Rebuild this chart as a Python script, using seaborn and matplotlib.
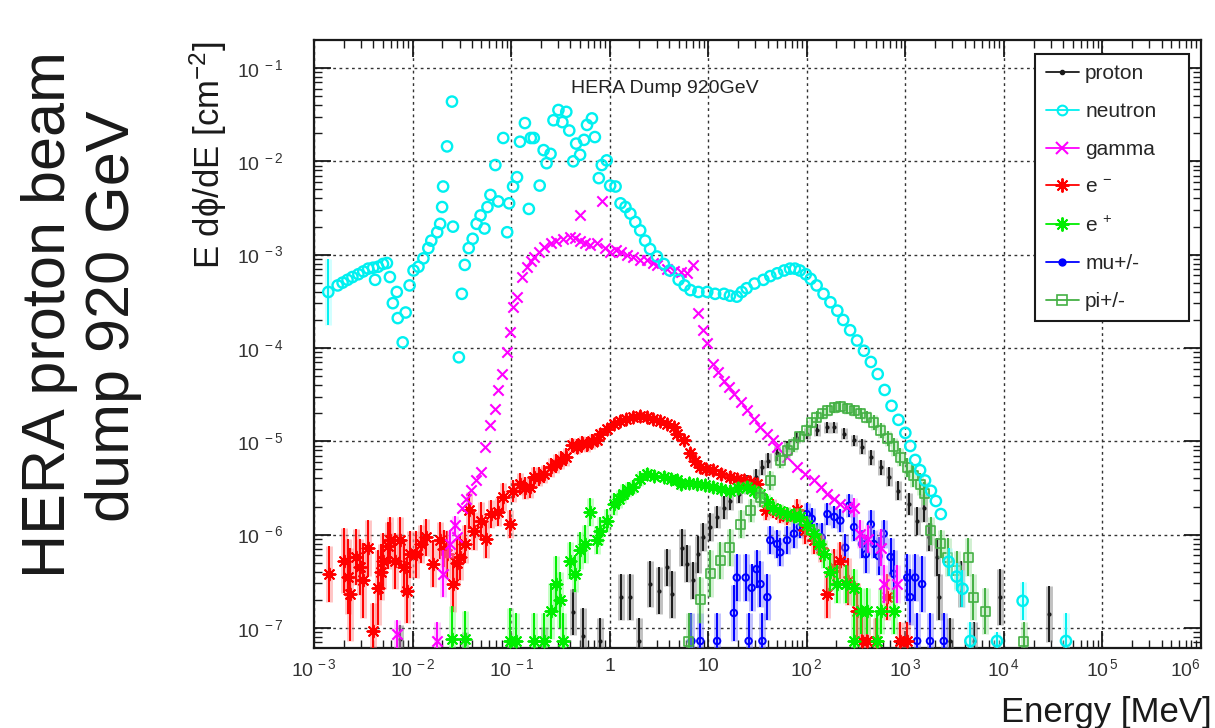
import numpy as np
import matplotlib
matplotlib.use("Agg")
import matplotlib.pyplot as plt
import seaborn as sns
from matplotlib.lines import Line2D
from matplotlib.ticker import LogLocator, NullFormatter

# ---------------- data (log10 of energy [MeV] and of E dphi/dE [cm^-2]) -------------
neutron_logE = [-2.855, -2.76, -2.71, -2.66, -2.61, -2.55, -2.50, -2.45, -2.40, -2.38, -2.35, -2.30,
                -2.26, -2.23, -2.20, -2.16, -2.15, -2.10, -2.07, -2.03, -1.99, -1.94, -1.89, -1.84,
                -1.81, -1.75, -1.72, -1.70, -1.69, -1.65, -1.60, -1.59, -1.53, -1.50, -1.47, -1.43,
                -1.39, -1.35, -1.31, -1.27, -1.24, -1.21, -1.16, -1.13, -1.08, -1.04, -1.02, -0.98,
                -0.94, -0.91, -0.86, -0.82, -0.80, -0.77, -0.71, -0.67, -0.64, -0.60, -0.57, -0.52,
                -0.48, -0.44, -0.41, -0.37, -0.34, -0.30, -0.26, -0.23, -0.18, -0.15, -0.11, -0.08,
                -0.03, 0.005, 0.06, 0.11, 0.16, 0.21, 0.26, 0.31, 0.36, 0.41, 0.48, 0.55, 0.61, 0.70,
                0.76, 0.82, 0.90, 0.99, 1.07, 1.16, 1.22, 1.29, 1.34, 1.39, 1.47, 1.56, 1.63, 1.70,
                1.77, 1.83, 1.88, 1.93, 1.99, 2.04, 2.10, 2.17, 2.24, 2.31, 2.37, 2.44, 2.51, 2.58,
                2.65, 2.72, 2.79, 2.86, 2.93, 3.00, 3.05, 3.10, 3.15, 3.20, 3.26, 3.31, 3.36, 3.44,
                3.52, 3.58, 3.66, 3.93, 4.19, 4.63]
neutron_logF = [-3.40, -3.33, -3.30, -3.27, -3.24, -3.21, -3.18, -3.15, -3.14, -3.27, -3.13, -3.10,
                -3.09, -3.24, -3.52, -3.40, -3.68, -3.94, -3.62, -3.33, -3.17, -3.13, -3.04, -2.93,
                -2.85, -2.76, -2.67, -2.49, -2.27, -1.84, -1.36, -2.70, -4.10, -3.42, -3.11, -2.93,
                -2.83, -2.67, -2.58, -2.72, -2.49, -2.36, -2.04, -2.43, -1.75, -2.76, -2.45, -2.27,
                -2.17, -1.79, -1.59, -2.51, -1.75, -1.75, -2.26, -1.88, -2.02, -1.92, -1.56, -1.45,
                -1.58, -1.47, -1.67, -2.00, -1.81, -1.93, -1.77, -1.61, -1.54, -1.74, -2.18, -2.04,
                -1.99, -2.26, -2.27, -2.45, -2.49, -2.56, -2.65, -2.74, -2.85, -2.94, -3.02, -3.10,
                -3.17, -3.27, -3.33, -3.38, -3.40, -3.40, -3.42, -3.42, -3.44, -3.45, -3.40, -3.36,
                -3.31, -3.27, -3.23, -3.20, -3.17, -3.15, -3.15, -3.17, -3.21, -3.26, -3.33, -3.42,
                -3.51, -3.60, -3.70, -3.81, -3.92, -4.03, -4.15, -4.28, -4.45, -4.62, -4.77, -4.91,
                -5.05, -5.20, -5.31, -5.42, -5.53, -5.64, -5.78, -6.29, -6.45, -6.58, -7.14, -7.14,
                -6.71, -7.14]
neutron_err = [0.35] + [0.0] * 126 + [0.15, 0.15, 0.2, 0.2, 0.1, 0.2, 0.3]

gamma_logE = [-2.16, -1.75, -1.69, -1.62, -1.57, -1.55, -1.50, -1.46, -1.41, -1.36, -1.31, -1.26,
              -1.21, -1.16, -1.13, -1.09, -1.04, -1.01, -0.98, -0.94, -0.89, -0.84, -0.80, -0.77,
              -0.72, -0.67, -0.60, -0.54, -0.47, -0.40, -0.35, -0.30, -0.30, -0.25, -0.20, -0.13,
              -0.08, -0.05, 0.005, 0.06, 0.11, 0.18, 0.24, 0.31, 0.38, 0.44, 0.48, 0.58, 0.65, 0.72,
              0.78, 0.85, 0.90, 0.95, 0.99, 1.05, 1.10, 1.16, 1.21, 1.26, 1.33, 1.39, 1.46, 1.53,
              1.60, 1.66, 1.70, 1.80, 1.90, 1.98, 2.07, 2.14, 2.21, 2.28, 2.34, 2.41, 2.48, 2.54,
              2.62, 2.75, 2.78, 2.92]
gamma_logF = [-7.06, -7.14, -6.42, -6.10, -5.90, -6.03, -5.72, -5.62, -5.52, -5.42, -5.33, -5.06,
              -4.83, -4.65, -4.45, -4.28, -4.04, -3.83, -3.56, -3.45, -3.24, -3.13, -3.07, -3.02,
              -2.97, -2.92, -2.88, -2.85, -2.83, -2.81, -2.82, -2.85, -2.58, -2.88, -2.90, -2.88,
              -2.42, -2.93, -2.97, -2.95, -2.97, -3.00, -3.02, -3.06, -3.06, -3.09, -3.11, -3.15,
              -3.17, -3.19, -3.20, -3.11, -3.63, -3.81, -3.95, -4.17, -4.26, -4.35, -4.42, -4.49,
              -4.58, -4.67, -4.76, -4.85, -4.92, -4.99, -5.06, -5.17, -5.28, -5.35, -5.42, -5.49,
              -5.56, -5.62, -5.67, -5.70, -5.71, -5.99, -6.05, -6.14, -6.53, -6.53]
gamma_err = [0.15, 0.2, 0.25, 0.15, 0.1] + [0.0] * 71 + [0.1, 0.15, 0.15, 0.2, 0.2, 0.2]

eminus_logE = [-2.85, -2.70, -2.66, -2.63, -2.57, -2.53, -2.50, -2.45, -2.40, -2.35, -2.32, -2.30,
               -2.25, -2.23, -2.18, -2.13, -2.09, -2.06, -2.03, -1.96, -1.91, -1.86, -1.79, -1.72,
               -1.68, -1.65, -1.59, -1.55, -1.52, -1.47, -1.43, -1.38, -1.31, -1.25, -1.20, -1.13,
               -1.08, -1.01, -0.98, -0.91, -0.86, -0.81, -0.77, -0.72, -0.67, -0.60, -0.54, -0.49,
               -0.44, -0.38, -0.33, -0.28, -0.23, -0.18, -0.13, -0.10, -0.03, 0.04, 0.10, 0.17,
               0.24, 0.31, 0.38, 0.44, 0.51, 0.58, 0.65, 0.68, 0.75, 0.82, 0.87, 0.92, 0.98, 1.05,
               1.13, 1.22, 1.29, 1.36, 1.42, 1.49, 1.59, 1.66, 1.73, 1.80, 1.90, 1.98, 2.07, 2.14,
               2.21, 2.28, 2.34, 2.42, 2.51, 2.56, 2.61, 2.70, 2.81, 2.95, 3.02]
eminus_logF = [-6.42, -6.28, -6.45, -6.64, -6.24, -6.35, -6.49, -6.14, -7.03, -6.57, -6.40, -6.28,
               -6.12, -6.06, -6.28, -6.06, -6.35, -6.60, -6.21, -6.21, -6.10, -6.03, -6.31, -6.06,
               -6.15, -6.21, -6.53, -6.30, -6.24, -6.10, -5.74, -5.96, -5.85, -6.05, -5.78, -5.76,
               -5.60, -5.89, -5.53, -5.46, -5.50, -5.49, -5.38, -5.38, -5.35, -5.28, -5.24, -5.20,
               -5.17, -5.04, -5.06, -5.02, -5.03, -5.00, -4.99, -4.92, -4.87, -4.81, -4.78, -4.76,
               -4.74, -4.73, -4.74, -4.76, -4.78, -4.81, -4.85, -4.92, -4.99, -5.13, -5.21, -5.28,
               -5.30, -5.31, -5.35, -5.38, -5.40, -5.42, -5.44, -5.46, -5.74, -5.72, -5.78, -5.80,
               -5.74, -5.95, -6.06, -6.14, -6.64, -6.35, -6.28, -6.50, -6.82, -7.14, -7.14, -7.14,
               -6.67, -7.14, -7.14]
eminus_err = [0.3, 0.35, 0.4, 0.5, 0.3, 0.3, 0.4, 0.3, 0.3, 0.4, 0.3, 0.3, 0.25, 0.25, 0.3, 0.25,
              0.3, 0.35, 0.25, 0.25, 0.2, 0.2, 0.25, 0.2, 0.2, 0.25, 0.3, 0.25, 0.25, 0.2, 0.2, 0.2,
              0.2, 0.2, 0.15, 0.15, 0.15, 0.15, 0.12, 0.12, 0.12, 0.12, 0.1, 0.1, 0.1, 0.1, 0.1, 0.1,
              0.1, 0.08, 0.08, 0.08, 0.08, 0.08, 0.06, 0.06, 0.06, 0.05, 0.05, 0.05, 0.05, 0.05,
              0.05, 0.05, 0.05, 0.05, 0.05, 0.05, 0.05, 0.06, 0.06, 0.06, 0.06, 0.06, 0.06, 0.06,
              0.06, 0.06, 0.06, 0.06, 0.1, 0.1, 0.1, 0.1, 0.12, 0.15, 0.15, 0.15, 0.25, 0.2, 0.2,
              0.25, 0.3, 0.3, 0.3, 0.25, 0.25, 0.2, 0.2]

eplus_logE = [-1.60, -1.47, -1.01, -0.95, -0.77, -0.67, -0.60, -0.54, -0.50, -0.47, -0.40, -0.35,
              -0.30, -0.25, -0.20, -0.13, -0.10, -0.03, 0.04, 0.09, 0.14, 0.19, 0.24, 0.31, 0.38,
              0.45, 0.55, 0.62, 0.68, 0.72, 0.80, 0.89, 0.97, 1.05, 1.13, 1.22, 1.30, 1.39, 1.46,
              1.53, 1.60, 1.66, 1.73, 1.80, 1.87, 1.93, 2.00, 2.07, 2.12, 2.17, 2.24, 2.31, 2.40,
              2.48, 2.48, 2.55, 2.61, 2.71, 2.75, 2.88]
eplus_logF = [-7.12, -7.12, -7.14, -7.14, -7.14, -7.14, -6.82, -6.53, -6.70, -7.14, -6.28, -6.42,
              -6.17, -6.10, -5.76, -6.06, -5.96, -5.85, -5.67, -5.62, -5.56, -5.52, -5.49, -5.40,
              -5.35, -5.37, -5.38, -5.40, -5.42, -5.46, -5.45, -5.46, -5.47, -5.49, -5.51, -5.53,
              -5.50, -5.49, -5.53, -5.56, -5.65, -5.71, -5.75, -5.78, -5.80, -5.81, -5.90, -5.99,
              -6.10, -6.21, -6.40, -6.53, -6.53, -6.57, -7.14, -6.82, -6.82, -7.14, -6.82, -6.82]
eplus_err = [0.35, 0.3, 0.35, 0.3, 0.3, 0.3, 0.3, 0.3, 0.3, 0.3, 0.2, 0.2, 0.2, 0.2, 0.15, 0.15,
             0.15, 0.12, 0.12, 0.1, 0.1, 0.08, 0.08, 0.08, 0.06, 0.06, 0.06, 0.06, 0.06, 0.06,
             0.06, 0.06, 0.06, 0.06, 0.06, 0.06, 0.06, 0.06, 0.06, 0.06, 0.08, 0.08, 0.08, 0.08,
             0.08, 0.1, 0.1, 0.1, 0.12, 0.15, 0.2, 0.2, 0.2, 0.2, 0.3, 0.25, 0.25, 0.3, 0.25, 0.25]

mu_logE = [0.83, 0.92, 1.09, 1.26, 1.29, 1.38, 1.41, 1.44, 1.49, 1.53, 1.55, 1.60, 1.63, 1.70,
           1.73, 1.80, 1.87, 1.93, 2.00, 2.05, 2.10, 2.15, 2.21, 2.28, 2.34, 2.39, 2.43, 2.48,
           2.56, 2.60, 2.65, 2.68, 2.73, 2.78, 2.85, 2.88, 3.02, 3.05, 3.10, 3.12, 3.17, 3.25, 3.39]
mu_logF = [-7.14, -7.14, -7.14, -6.84, -6.46, -6.46, -7.14, -6.57, -6.37, -6.53, -7.14, -6.67,
           -6.06, -6.10, -6.19, -6.06, -5.99, -5.92, -5.78, -5.83, -6.03, -6.03, -5.78, -5.81,
           -5.85, -6.14, -5.69, -5.92, -6.10, -6.21, -5.89, -6.10, -6.23, -5.99, -6.24, -6.42,
           -6.46, -6.67, -6.46, -7.14, -6.53, -7.14, -7.14]
mu_err = [0.3, 0.3, 0.3, 0.3, 0.25, 0.25, 0.3, 0.25, 0.2, 0.25, 0.3, 0.25, 0.15, 0.15, 0.15, 0.15,
          0.15, 0.12, 0.12, 0.12, 0.15, 0.15, 0.12, 0.12, 0.12, 0.15, 0.12, 0.15, 0.15, 0.2, 0.15,
          0.15, 0.2, 0.15, 0.2, 0.25, 0.25, 0.3, 0.25, 0.3, 0.3, 0.3, 0.3]

proton_logE = [-2.13, -1.47, -0.67, -0.37, -0.27, -0.10, 0.11, 0.21, 0.30, 0.41, 0.50, 0.58, 0.63,
               0.73, 0.78, 0.85, 0.90, 0.95, 1.02, 1.09, 1.16, 1.22, 1.31, 1.39, 1.48, 1.55, 1.61,
               1.70, 1.80, 1.90, 2.00, 2.10, 2.21, 2.28, 2.38, 2.48, 2.56, 2.65, 2.75, 2.83, 2.93,
               3.04, 3.12, 3.19, 3.24, 3.32, 3.34, 3.45, 3.56, 3.70, 3.96, 4.46]
proton_logF = [-7.12, -7.14, -7.14, -6.83, -7.09, -7.14, -6.67, -6.67, -7.14, -6.53, -6.60, -6.35,
               -6.64, -6.14, -6.31, -6.49, -6.21, -6.03, -5.92, -5.81, -5.71, -5.64, -5.56, -5.46,
               -5.38, -5.28, -5.21, -5.13, -5.06, -4.96, -4.92, -4.88, -4.85, -4.85, -4.92, -4.99,
               -5.06, -5.17, -5.28, -5.38, -5.53, -5.67, -5.85, -5.71, -6.03, -6.24, -6.67, -7.14,
               -6.53, -7.14, -6.67, -6.85]
proton_err = [0.15, 0.1, 0.15, 0.25, 0.3, 0.25, 0.25, 0.25, 0.25, 0.25, 0.25, 0.2, 0.25, 0.2, 0.2,
              0.2, 0.2, 0.15, 0.15, 0.12, 0.12, 0.1, 0.1, 0.1, 0.08, 0.08, 0.08, 0.08, 0.06, 0.06,
              0.06, 0.06, 0.06, 0.06, 0.06, 0.06, 0.08, 0.08, 0.08, 0.1, 0.1, 0.12, 0.15, 0.15,
              0.15, 0.2, 0.25, 0.25, 0.25, 0.2, 0.3, 0.3]

pi_logE = [0.80, 0.92, 1.02, 1.12, 1.22, 1.33, 1.43, 1.53, 1.63, 1.73, 1.80, 1.87, 1.93, 2.00,
           2.05, 2.10, 2.16, 2.21, 2.28, 2.34, 2.41, 2.48, 2.55, 2.61, 2.68, 2.75, 2.82, 2.88,
           2.95, 3.02, 3.08, 3.15, 3.19, 3.26, 3.36, 3.43, 3.52, 3.64, 3.69, 3.81, 4.20]
pi_logF = [-7.14, -6.70, -6.42, -6.28, -6.14, -5.89, -5.74, -5.60, -5.42, -5.21, -5.10, -5.03,
           -4.95, -4.88, -4.80, -4.74, -4.70, -4.67, -4.64, -4.63, -4.65, -4.67, -4.70, -4.74,
           -4.80, -4.88, -4.97, -5.06, -5.17, -5.28, -5.37, -5.46, -5.56, -5.96, -6.10, -6.24,
           -6.38, -6.24, -6.67, -6.82, -7.14]
pi_err = [0.3, 0.25, 0.25, 0.2, 0.2, 0.15, 0.12, 0.1, 0.1, 0.08, 0.08, 0.08, 0.06, 0.06, 0.06,
          0.06, 0.06, 0.06, 0.06, 0.06, 0.06, 0.06, 0.06, 0.06, 0.08, 0.08, 0.08, 0.1, 0.1, 0.1,
          0.12, 0.12, 0.12, 0.15, 0.15, 0.2, 0.2, 0.2, 0.25, 0.25, 0.2]

legend_labels = ["proton", "neutron", "gamma", "e $^{-}$", "e $^{+}$", "mu+/-", "pi+/-"]
x_ticks = [1e-3, 1e-2, 1e-1, 1e0, 1e1, 1e2, 1e3, 1e4, 1e5, 1e6]
x_tick_labels = [r"10$^{\,-3}$", r"10$^{\,-2}$", r"10$^{\,-1}$", "1", "10", r"10$^{\,2}$",
                 r"10$^{\,3}$", r"10$^{\,4}$", r"10$^{\,5}$", r"10$^{6}$"]
y_ticks = [1e-7, 1e-6, 1e-5, 1e-4, 1e-3, 1e-2, 1e-1]
y_tick_labels = [r"10$^{\;-7}$", r"10$^{\;-6}$", r"10$^{\;-5}$", r"10$^{\;-4}$",
                 r"10$^{\;-3}$", r"10$^{\;-2}$", r"10$^{\;-1}$"]

# ---------------- style ----------------
sns.set_theme(style="white")
plt.rcParams['font.family'] = ['Liberation Sans', 'DejaVu Sans']
plt.rcParams['mathtext.fontset'] = 'custom'
plt.rcParams['mathtext.rm'] = 'Liberation Sans'
plt.rcParams['mathtext.it'] = 'Liberation Sans:italic'
plt.rcParams['mathtext.bf'] = 'Liberation Sans:bold'
NARROW = ['Liberation Sans Narrow', 'Liberation Sans', 'DejaVu Sans']

CYAN = '#00f0f0'
MAG = '#ff00ff'
RED = '#ff0000'
GREEN = '#00ee00'
BLUE = '#0000ff'
PIGREEN = '#44b044'

fig = plt.figure(figsize=(12.15, 7.28), dpi=100)
ax = fig.add_axes([314 / 1215, 1 - 648 / 728, (1201 - 314) / 1215, (648 - 40) / 728])
ax.set_xscale('log')
ax.set_yscale('log')
ax.set_xlim(1e-3, 1e6)
ax.set_ylim(10 ** -7.215, 10 ** -0.70)
ax.set_axisbelow(True)
ax.grid(True, which='major', color='#333333', linestyle=(0, (2, 2.5)), linewidth=1.0)

series = [
    (proton_logE, proton_logF, proton_err, dict(marker='o', s=9, color='k', linewidth=0), 'k', '#777777', 3),
    (mu_logE, mu_logF, mu_err, dict(marker='o', s=22, facecolor='none', edgecolor=BLUE, linewidth=1.4), BLUE, '#7777ff', 4),
    (eminus_logE, eminus_logF, eminus_err, dict(marker=(8, 2, 0), s=75, color=RED, linewidth=1.4), RED, '#ff8080', 5),
    (eplus_logE, eplus_logF, eplus_err, dict(marker=(8, 2, 0), s=75, color=GREEN, linewidth=1.4), GREEN, '#80ff80', 6),
    (gamma_logE, gamma_logF, gamma_err, dict(marker='x', s=55, color=MAG, linewidth=1.5), MAG, '#ff90ff', 7),
    (pi_logE, pi_logF, pi_err, dict(marker='s', s=42, facecolor='none', edgecolor=PIGREEN, linewidth=1.2), PIGREEN, '#99dd99', 8),
    (neutron_logE, neutron_logF, neutron_err, dict(marker='o', s=55, facecolor='none', edgecolor=CYAN, linewidth=1.7), CYAN, '#99ffff', 9),
]

for lx, ly, le, mk, ecol, band, z in series:
    E = 10.0 ** np.asarray(lx)
    F = 10.0 ** np.asarray(ly)
    err = np.asarray(le)
    m = err > 0
    lo = F[m] - F[m] * 10.0 ** (-err[m])
    hi = F[m] * 10.0 ** err[m] - F[m]
    ax.errorbar(E[m], F[m], yerr=[lo, hi], fmt='none', ecolor=band, elinewidth=5, alpha=0.45,
                capsize=0, zorder=z)
    ax.errorbar(E[m], F[m], yerr=[lo, hi], fmt='none', ecolor=ecol, elinewidth=1.4,
                capsize=0, zorder=z + 0.1)
    sns.scatterplot(x=E, y=F, ax=ax, legend=False, zorder=z + 0.2, **mk)

# axes ticks
ax.set_xticks(x_ticks)
ax.set_xticklabels(x_tick_labels, fontfamily=NARROW, fontsize=14, color='#333333')
ax.set_yticks(y_ticks)
ax.set_yticklabels(y_tick_labels, fontfamily=NARROW, fontsize=14, color='#333333')
ax.xaxis.set_minor_locator(LogLocator(base=10, subs=np.arange(2, 10), numticks=100))
ax.yaxis.set_minor_locator(LogLocator(base=10, subs=np.arange(2, 10), numticks=100))
ax.xaxis.set_minor_formatter(NullFormatter())
ax.yaxis.set_minor_formatter(NullFormatter())
ax.tick_params(which='major', direction='in', length=12, width=1.3, top=True, right=True,
               bottom=True, left=True, colors='k', labelcolor='#333333')
ax.tick_params(which='minor', direction='in', length=6, width=1.0, top=True, right=True,
               bottom=True, left=True, colors='k')
ax.tick_params(axis='x', which='major', pad=7)
ax.tick_params(axis='y', which='major', pad=22)
# keep the last x label inside the figure edge
ax.get_xticklabels()[-1].set_horizontalalignment('right')
for sp in ax.spines.values():
    sp.set_color('k')
    sp.set_linewidth(1.6)

# title inside
ax.text(0.395, 0.921, "HERA Dump 920GeV", transform=ax.transAxes, ha='center', va='center',
        fontsize=14, fontfamily=NARROW, color='#222222')

# legend
handles = [
    Line2D([], [], color='k', marker='o', ms=3, lw=1.3),
    Line2D([], [], color=CYAN, marker='o', mfc='none', ms=7, mew=1.5, lw=1.3),
    Line2D([], [], color=MAG, marker='x', ms=8, mew=1.5, lw=1.3),
    Line2D([], [], color=RED, marker=(8, 2, 0), ms=10, mew=1.4, lw=1.3),
    Line2D([], [], color=GREEN, marker=(8, 2, 0), ms=10, mew=1.4, lw=1.3),
    Line2D([], [], color=BLUE, marker='o', ms=5, lw=1.3),
    Line2D([], [], color=PIGREEN, marker='s', mfc='none', ms=7, mew=1.2, lw=1.3),
]
leg = ax.legend(handles, legend_labels, loc='upper left', bbox_to_anchor=(0.813, 0.977, 0.173, 0.0),
                mode='expand', borderaxespad=0, frameon=True, fancybox=False, framealpha=1,
                edgecolor='k', labelspacing=0.9, handlelength=1.6, handletextpad=0.3,
                borderpad=0.5, prop={'family': NARROW, 'size': 15})
leg.get_frame().set_linewidth(1.5)
leg.set_zorder(20)

# outer texts
fig.text(50 / 1215, 1 - 315 / 728, "HERA proton beam", rotation=90, ha='center', va='center',
         fontsize=44, fontfamily=['Liberation Sans', 'DejaVu Sans'], color='k')
fig.text(114 / 1215, 1 - 316 / 728, "dump 920 GeV", rotation=90, ha='center', va='center',
         fontsize=44, fontfamily=['Liberation Sans', 'DejaVu Sans'], color='k')
fig.text(208 / 1215, 1 - 155 / 728, "E d\u03d5/dE [cm$^{-2}$]", rotation=90, ha='center', va='center',
         fontsize=25, fontfamily=['Liberation Sans', 'DejaVu Sans'], color='k')
fig.text(1212 / 1215, 1 - 722 / 728, "Energy [MeV]", ha='right', va='baseline',
         fontsize=25, fontfamily=['Liberation Sans', 'DejaVu Sans'], color='k')

fig.savefig("out.png", dpi=100)
